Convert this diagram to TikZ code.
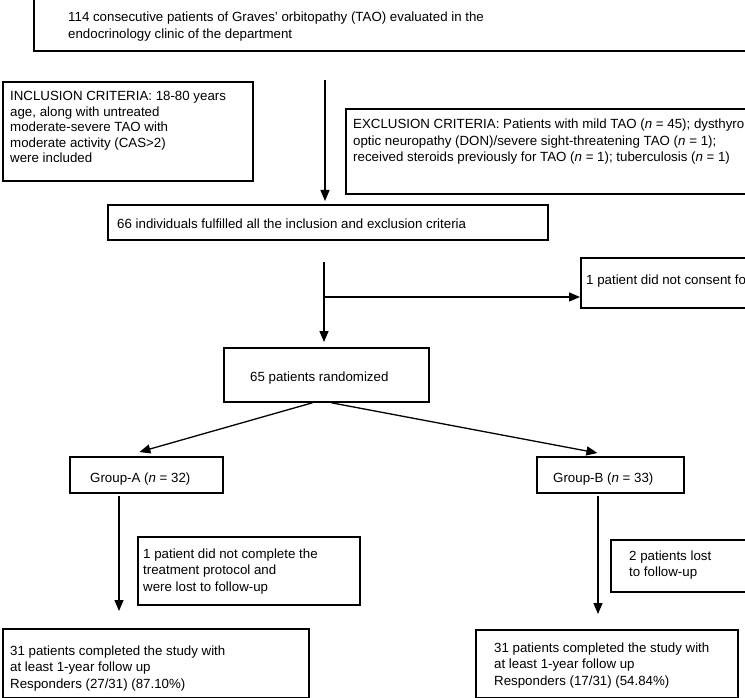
\documentclass[tikz,border=0pt]{standalone}
\usepackage{fontspec}
\setmainfont{Liberation Sans}
\usetikzlibrary{arrows.meta,calc}

\begin{document}
\begin{tikzpicture}[x = 1pt, y = -1pt,
                    box/.style = {draw, line width = 1.8pt, anchor = north west, inner sep = 0pt},
                    txt/.style = {anchor = base west, inner sep = 0pt, align = left,
                                  font = \fontsize{13.3}{16.5}\selectfont},
                    arr/.style = {line width = 1.3pt, -{Triangle[length = 11pt, width = 9pt]}}]

\useasboundingbox (0,0) rectangle (745,698);
\clip (0,0) rectangle (745,698);

% boxes
\node [box, minimum width = 740pt, minimum height = 56pt] (Bstart) at (33,-6) {};
\node [box, minimum width = 250pt, minimum height = 99pt] (Bincl) at (2,81) {};
\node [box, minimum width = 420pt, minimum height = 85pt] (Bexcl) at (345,108) {};
\node [box, minimum width = 440pt, minimum height = 35pt] (B66) at (107,204) {};
\node [box, minimum width = 180pt, minimum height = 50pt] (Bcons) at (580,257) {};
\node [box, minimum width = 205pt, minimum height = 54pt] (B65) at (223,347) {};
\node [box, minimum width = 153pt, minimum height = 36pt] (BA) at (69,456) {};
\node [box, minimum width = 147pt, minimum height = 36pt] (BB) at (536,456) {};
\node [box, minimum width = 222pt, minimum height = 68pt] (Blossa) at (137,536) {};
\node [box, minimum width = 150pt, minimum height = 52pt] (Blossb) at (610,539) {};
\node [box, minimum width = 306pt, minimum height = 69pt] (BendA) at (2,628) {};
\node [box, minimum width = 262pt, minimum height = 68pt] (BendB) at (475,629) {};

% texts (placed at the baseline of their last line)
\node [txt] (Tstart) at (68,38.5) {114 consecutive patients of Graves' orbitopathy (TAO) evaluated in the\\
                                   endocrinology clinic of the department};
\node [txt, font = \fontsize{13.3}{15.5}\selectfont] (Tincl) at (10,163) {INCLUSION CRITERIA: 18-80 years\\
                                 age, along with untreated\\ moderate-severe TAO with\\
                                 moderate activity (CAS>2)\\ were included};
\node [txt] (Texcl) at (353,162) {EXCLUSION CRITERIA: Patients with mild TAO (\textit{n} = 45); dysthyro\\
                                  optic neuropathy (DON)/severe sight-threatening TAO (\textit{n} = 1);\\
                                  received steroids previously for TAO (\textit{n} = 1); tuberculosis (\textit{n} = 1)};
\node [txt] (T66) at (117,229) {66 individuals fulfilled all the inclusion and exclusion criteria};
\node [txt] (Tcons) at (586,284) {1 patient did not consent fo};
\node [txt] (T65) at (250,381) {65 patients randomized};
\node [txt] (TA) at (90,482) {Group-A (\textit{n} = 32)};
\node [txt] (TB) at (553,482) {Group-B (\textit{n} = 33)};
\node [txt] (Tlossa) at (143,591) {1 patient did not complete the\\ treatment protocol and\\ were lost to follow-up};
\node [txt] (Tlossb) at (629,576.5) {2 patients lost\\ to follow-up};
\node [txt] (TendA) at (10,688) {31 patients completed the study with\\ at least 1-year follow up\\ Responders (27/31) (87.10\%)};
\node [txt] (TendB) at (494,685) {31 patients completed the study with\\ at least 1-year follow up\\ Responders (17/31) (54.84\%)};

% arrows
\coordinate (a1) at (325,80);
\coordinate (a2) at (324,262);
\coordinate (a3) at (324,297);
\coordinate (a4) at (119,496);
\coordinate (a5) at (598,496);

\draw[arr, shorten > = 3pt] (a1) -- (a1 |- B66.north);
\draw[arr, shorten > = 5pt] (a2) -- (a2 |- B65.north);
\draw[arr] (a3) -- (a3 -| Bcons.west);
\draw[arr] ($(B65.south)+(-14,0)$) -- ($(BA.north)+(-7,-4)$);
\draw[arr] ($(B65.south)+(5,0)$) -- ($(BB.north)+(-13,-3)$);
\draw[arr, shorten > = 17pt] (a4) -- (a4 |- BendA.north);
\draw[arr, shorten > = 15pt] (a5) -- (a5 |- BendB.north);

\end{tikzpicture}
\end{document}
